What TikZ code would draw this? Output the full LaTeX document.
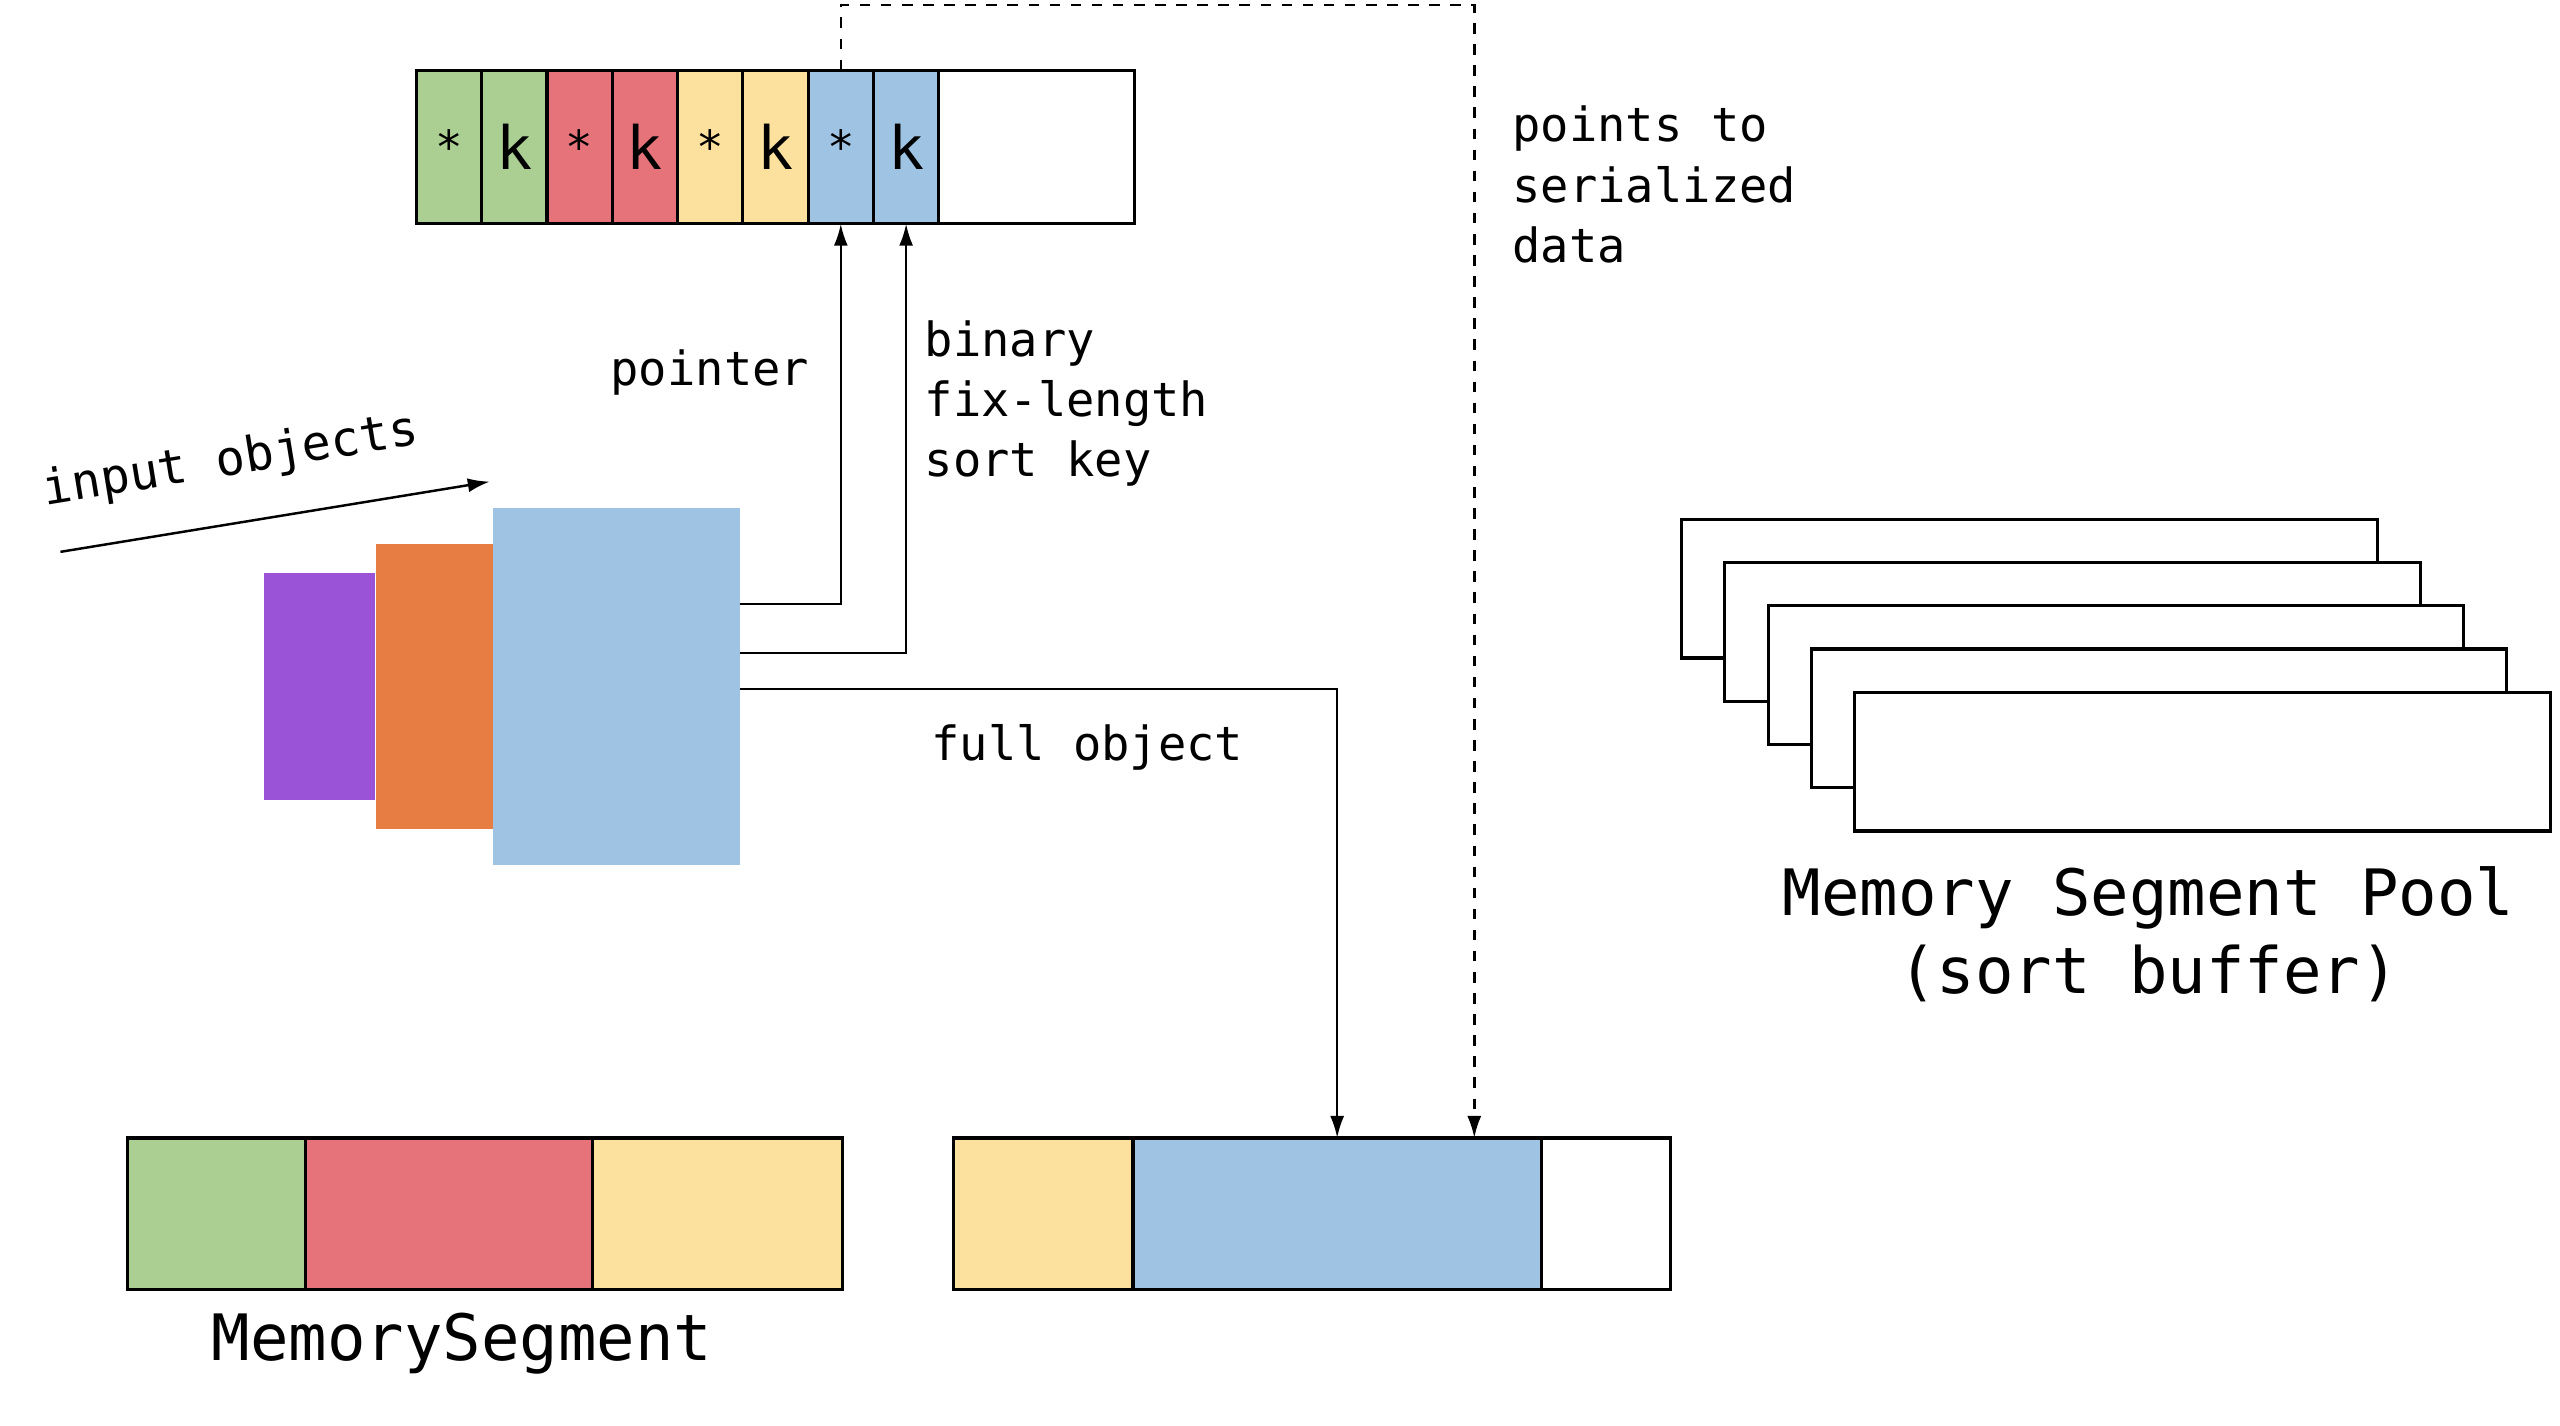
\documentclass[tikz,border=0pt]{standalone}
\usepackage{fontspec}
\setmonofont{DejaVu Sans Mono}
\usetikzlibrary{arrows.meta,positioning,calc}
\definecolor{KeyGreen}{HTML}{ABCE93}
\definecolor{KeyRed}{HTML}{E6737A}
\definecolor{KeyYellow}{HTML}{FCE19E}
\definecolor{KeyBlue}{HTML}{9FC3E3}
\definecolor{ObjPurple}{HTML}{9A52D6}
\definecolor{ObjOrange}{HTML}{E87D43}
\newcommand{\lblfont}{\ttfamily\fontsize{13.4}{17.1}\selectfont}
\newcommand{\bigfont}{\ttfamily\fontsize{18.2}{22.2}\selectfont}
\newcommand{\ptrmark}{{\fontsize{13}{13}\selectfont\raisebox{-0.45ex}{*}}}
\tikzset{cell/.style={draw,line width=0.9pt,inner sep=0pt,outer sep=0pt,anchor=north west,
    minimum width=6.53mm,minimum height=15.35mm,font=\ttfamily\fontsize{17}{17}\selectfont},
  segcell/.style={draw,line width=0.9pt,inner sep=0pt,outer sep=0pt,minimum height=15.19mm},
  obj/.style={inner sep=0pt,outer sep=0pt,anchor=north west},
  poolbox/.style={draw,fill=white,line width=0.9pt,inner sep=0pt,anchor=north west,
    minimum width=69.55mm,minimum height=13.88mm},
  edge/.style={-{Latex[length=2.2mm,width=1.4mm]},line width=0.7pt},
  linkedge/.style={edge,dashed},
  lbl/.style={font=\lblfont,align=left,inner sep=0pt}}

\begin{document}
\begin{tikzpicture}[x=0.16327mm,y=-0.16327mm]
    \useasboundingbox (0,0) rectangle (1568,873);
    % sort buffer: pointer / key pairs
    \foreach \col/\txt [count=\i] in {KeyGreen/\ptrmark,KeyGreen/k,KeyRed/\ptrmark,KeyRed/k,
        KeyYellow/\ptrmark,KeyYellow/k,KeyBlue/\ptrmark,KeyBlue/k}
      \node[cell,fill=\col] (c\i) at ({255+40*(\i-1)},43) {\txt};
    \node[cell,minimum width=19.59mm] (cfree) at (c8.north east) {};
    % input objects
    \node[obj,fill=ObjPurple,minimum width=11.10mm,minimum height=22.69mm] (o1) at (162,351) {};
    \node[obj,fill=ObjOrange,minimum width=11.76mm,minimum height=28.57mm] (o2) at (230,333) {};
    \node[obj,fill=KeyBlue,minimum width=24.65mm,minimum height=35.76mm] (o3) at (302,311) {};
    \coordinate (inA) at (37,338);
    \coordinate (inB) at (300,295);
    \draw[edge] (inA) -- (inB) node[lbl,pos=0.42,sloped,above=3.7mm,font=\ttfamily\fontsize{13.8}{17}\selectfont] (inlbl) {input objects};
    % memory segments
    \node[segcell,fill=KeyGreen,minimum width=17.80mm,anchor=north west] (l1) at (78,697) {};
    \node[segcell,fill=KeyRed,minimum width=28.74mm,right=0pt of l1] (l2) {};
    \node[segcell,fill=KeyYellow,minimum width=24.98mm,right=0pt of l2] (l3) {};
    \node[segcell,fill=KeyYellow,minimum width=17.96mm,anchor=north west] (r1) at (584,697) {};
    \node[segcell,fill=KeyBlue,minimum width=40.82mm,right=0pt of r1] (r2) {};
    \node[segcell,minimum width=12.90mm,right=0pt of r2] (r3) {};
    \node[font=\bigfont] (seglbl) at (283,823) {MemorySegment};
    % connectors
    \draw[edge] ([yshift=8.25mm]o3.east) -| (c7.south);
    \draw[edge] ([yshift=3.35mm]o3.east) -| (c8.south);
    \draw[edge] ([yshift=-0.25mm]o3.east) -| (r2.north);
    \coordinate (bend) at (903,3);
    \draw[linkedge] (c7.north) |- (bend) -- (bend |- r2.north);
    \node[lbl,anchor=east] (ptrlbl) at (496,228) {pointer};
    \node[lbl,anchor=west] (keylbl) at (566,247) {binary\\fix-length\\sort key};
    \node[lbl,anchor=west] (fulllbl) at (570,458) {full object};
    \node[lbl,anchor=west] (datalbl) at (926,113) {points to\\serialized\\data};
    % segment pool
    \foreach \i in {0,...,4}
      \node[poolbox] (pool\i) at ({1029+26.5*\i},{317+26.5*\i}) {};
    \node[font=\bigfont,align=center] (poollbl) at (1316,572) {Memory Segment Pool\\(sort buffer)};
  \end{tikzpicture}
\end{document}
